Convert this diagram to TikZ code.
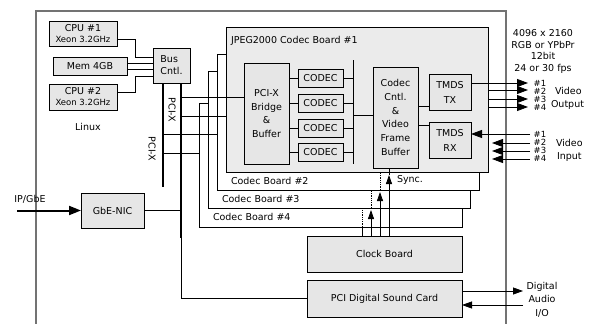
\documentclass[tikz,border=0pt]{standalone}
\usepackage{fontspec}
\setmainfont{DejaVu Sans}
\usetikzlibrary{arrows.meta,calc,shadows}
\definecolor{boxgray}{HTML}{E6E6E6}
\definecolor{boardgray}{HTML}{EBEBEB}
\begin{document}
\begin{tikzpicture}[x=1pt,y=-1pt,
  every node/.style={font=\fontsize{9.5}{11}\selectfont, inner sep=0pt, outer sep=0pt},
  box/.style={draw=black, fill=boxgray, line width=0.9pt, align=center,
    drop shadow={shadow xshift=0.9pt, shadow yshift=-0.9pt, fill=black!55, opacity=0.7}},
  boardw/.style={draw=black, fill=white, line width=0.8pt},
  boardg/.style={draw=black, fill=boardgray, line width=0.8pt},
  wire/.style={line width=0.8pt},
  pcibus/.style={line width=2.4pt},
  bigarrow/.style={line width=0.8pt, -{Triangle[length=11pt,width=8pt]}},
  midarrow/.style={line width=0.8pt, -{Triangle[length=10pt,width=7pt]}},
  syncarrow/.style={line width=0.8pt, -{Triangle[length=9pt,width=6pt]}},
  hidden/.style={line width=0.8pt, densely dotted},
  lbl/.style={font=\fontsize{9.5}{11}\selectfont},
  numlbl/.style={font=\fontsize{8.5}{8}\selectfont}
]
\useasboundingbox (0,0) rectangle (590,324);

% outer frame
\draw[black!55, line width=1.3pt] (36,324) -- (36,11) -- (506,11) -- (506,324);

% host side
\node[box, minimum width=68, minimum height=25] (cpu1) at (83,33.5)
  {\fontsize{9.5}{14}\selectfont CPU \#1\\{\fontsize{8.5}{14}\selectfont Xeon 3.2GHz}};
\node[box, minimum width=74, minimum height=18] (mem) at (90,66) {Mem 4GB};
\node[box, minimum width=68, minimum height=26] (cpu2) at (83,97)
  {\fontsize{9.5}{14}\selectfont CPU \#2\\{\fontsize{8.5}{14}\selectfont Xeon 3.2GHz}};
\node[box, minimum width=37, minimum height=35, align=left, font=\fontsize{9.5}{12}\selectfont] (bus) at (171.5,65.5) {Bus\\Cntl.};
\node[box, minimum width=63, minimum height=35] (nic) at (112.5,210.5) {GbE-NIC};
\node[lbl] (linux) at (88,127) {Linux};

\draw[wire] ($(cpu1.east)+(0,5.5)$) -- ++(18,0) |- ($(bus.west)+(0,-8.5)$);
\draw[wire] ($(mem.east)+(0,-3)$) -- ($(bus.west)+(0,-2.5)$);
\draw[wire] ($(mem.east)+(0,3)$) -- ($(bus.west)+(0,3.5)$);
\draw[wire] ($(cpu2.east)+(0,-5)$) -- ++(18,0) |- ($(bus.west)+(0,10.5)$);

% codec boards (stack)
\node[boardw, minimum width=263, minimum height=124] (b4) at (330.5,165) {};
\node[boardw, minimum width=262, minimum height=137] (b3) at (339,139.5) {};
\node[boardw, minimum width=262, minimum height=136] (b2) at (348,122) {};
\node[boardg, minimum width=262, minimum height=145] (b1) at (357,99.5) {};
\node[lbl, anchor=west] (b1lbl) at (231,41) {JPEG2000 Codec Board \#1};
\node[lbl, anchor=west] (b2lbl) at (231,181) {Codec Board \#2};
\node[lbl, anchor=west] (b3lbl) at (222,199) {Codec Board \#3};
\node[lbl, anchor=west] (b4lbl) at (213,217) {Codec Board \#4};

% board 1 contents
\node[box, minimum width=45, minimum height=101, font=\fontsize{9.5}{13.7}\selectfont] (bridge) at (266.5,113.5) {PCI-X\\Bridge\\\&\\Buffer};
\node[box, minimum width=45, minimum height=18] (c1) at (320.5,78) {CODEC};
\node[box, minimum width=45, minimum height=18] (c2) at (320.5,103) {CODEC};
\node[box, minimum width=45, minimum height=18] (c3) at (320.5,128) {CODEC};
\node[box, minimum width=45, minimum height=18] (c4) at (320.5,152) {CODEC};
\node[box, minimum width=45, minimum height=101, font=\fontsize{9.5}{13.8}\selectfont] (cntl) at (395.5,117.5) {Codec\\Cntl.\\\&\\Video\\Frame\\Buffer};
\node[box, minimum width=42, minimum height=36, font=\fontsize{9.5}{15}\selectfont] (tx) at (450,92) {TMDS\\TX};
\node[box, minimum width=42, minimum height=36, font=\fontsize{9.5}{15}\selectfont] (rx) at (450,140) {TMDS\\RX};

\coordinate (cbT) at (353,60);
\coordinate (cbB) at (353,164);
\draw[wire] (cbT) -- (cbB);
\foreach \c in {c1,c2,c3,c4}{
  \draw[wire] (\c.west -| bridge.east) -- (\c.west);
  \draw[wire] (\c.east) -- (\c.east -| cbT);
}
\coordinate (cbM) at (353,115);
\draw[wire] (cbM) -- (cbM -| cntl.west);
\coordinate (ctx) at (418,106);
\draw[wire] (ctx) -- (ctx -| tx.west);
\coordinate (crx) at (418,125);
\draw[wire] (crx) -- (crx -| rx.west);

% PCI-X bus
\coordinate (pL1) at (163,83);
\coordinate (pL2) at (163,187);
\coordinate (pR1) at (181,83);
\coordinate (pR2) at (181,238);
\draw[pcibus] (pL1) -- (pL2);
\draw[pcibus] (pR1) -- (pR2);
\node[lbl, rotate=-90] (pcix1) at (172,110) {PCI-X};
\node[lbl, rotate=-90] (pcix2) at (152,149) {PCI-X};

\coordinate (h1) at (181,97);
\coordinate (h2) at (181,116);
\coordinate (h3) at (163,134);
\coordinate (h4) at (163,153);
\draw[wire] (h1) -- (h1 -| bridge.west);
\draw[wire] (h2) -- (h2 -| b1.west);
\draw[wire] (h3) -- (h3 -| b2.west);
\draw[wire] (h4) -- (h4 -| b4.west);

\draw[wire] (nic.east) -- (nic.east -| pR1);

% IP/GbE input
\coordinate (ip) at (17,210.5);
\draw[line width=2pt, -{Triangle[length=12pt,width=9pt]}] (ip) -- (nic.west);
\node[lbl] (iplbl) at (30,199) {IP/GbE};

% clock and sound
\node[box, minimum width=155, minimum height=36] (clock) at (384.5,254) {Clock Board};
\node[box, minimum width=155, minimum height=37] (sound) at (384.5,298.5) {PCI Digital Sound Card};
\draw[wire] (pR2) |- (sound.west);

% sync lines
\coordinate (s1) at (389,236);
\coordinate (s1a) at (389,175);
\coordinate (s2) at (380,236);
\coordinate (s2a) at (380,192);
\coordinate (s2b) at (380,190);
\coordinate (s2c) at (380,172);
\coordinate (s3) at (371,236);
\coordinate (s3a) at (371,210);
\coordinate (s3b) at (371,208);
\coordinate (s3c) at (371,190);
\coordinate (s4) at (362,236);
\coordinate (s4b) at (362,227);
\coordinate (s4c) at (362,208);
\draw[syncarrow] (s1) -- (s1a);
\draw[wire] (s1a) -- (s1a |- cntl.south);
\draw[syncarrow] (s2) -- (s2a);
\draw[hidden] (s2b) -- (s2c);
\draw[syncarrow] (s3) -- (s3a);
\draw[hidden] (s3b) -- (s3c);
\draw[wire] (s4) -- (s4b);
\draw[hidden] (s4b) -- (s4c);
\node[lbl, anchor=west] (synclbl) at (397,180) {Sync.};

% video outputs
\coordinate (o2) at (488,90);
\coordinate (o3) at (488,99);
\coordinate (o4) at (488,107);
\draw[bigarrow] ($(tx.east)+(0,-9)$) -- ++(57,0);
\draw[bigarrow] (o2) -- ++(40,0);
\draw[bigarrow] (o3) -- ++(40,0);
\draw[bigarrow] (o4) -- ++(40,0);
\node[numlbl] (on1) at (540,83) {\#1};
\node[numlbl] (on2) at (540,91) {\#2};
\node[numlbl] (on3) at (540,99) {\#3};
\node[numlbl] (on4) at (540,107) {\#4};
\node[lbl, anchor=west] (ovid) at (555,91) {Video};
\node[lbl, anchor=west] (oout) at (551,105) {Output};

% video inputs
\coordinate (i1) at (530,134);
\coordinate (i2) at (530,143);
\coordinate (i3) at (530,151);
\coordinate (i4) at (530,159);
\coordinate (i2t) at (492,143);
\coordinate (i3t) at (492,151);
\coordinate (i4t) at (492,159);
\draw[bigarrow] (i1) -- (i1 -| rx.east);
\draw[bigarrow] (i2) -- (i2t);
\draw[bigarrow] (i3) -- (i3t);
\draw[bigarrow] (i4) -- (i4t);
\node[numlbl] (in1) at (540,134) {\#1};
\node[numlbl] (in2) at (540,142) {\#2};
\node[numlbl] (in3) at (540,150) {\#3};
\node[numlbl] (in4) at (540,158) {\#4};
\node[lbl, anchor=west] (ivid) at (556,143) {Video};
\node[lbl, anchor=west] (iinp) at (557,157) {Input};

% format text
\node[align=center, font=\fontsize{9.5}{11.6}\selectfont] (fmt) at (543,51.5) {4096 x 2160\\RGB or YPbPr\\12bit\\24 or 30 fps};

% digital audio
\coordinate (aout) at (523,291);
\coordinate (ain) at (523,305);
\draw[midarrow] (aout -| sound.east) -- (aout);
\draw[midarrow] (ain) -- (ain -| sound.east);
\node[align=center, font=\fontsize{9.5}{13.5}\selectfont] (audio) at (542,299.5) {Digital\\Audio\\I/O};

\end{tikzpicture}
\end{document}
